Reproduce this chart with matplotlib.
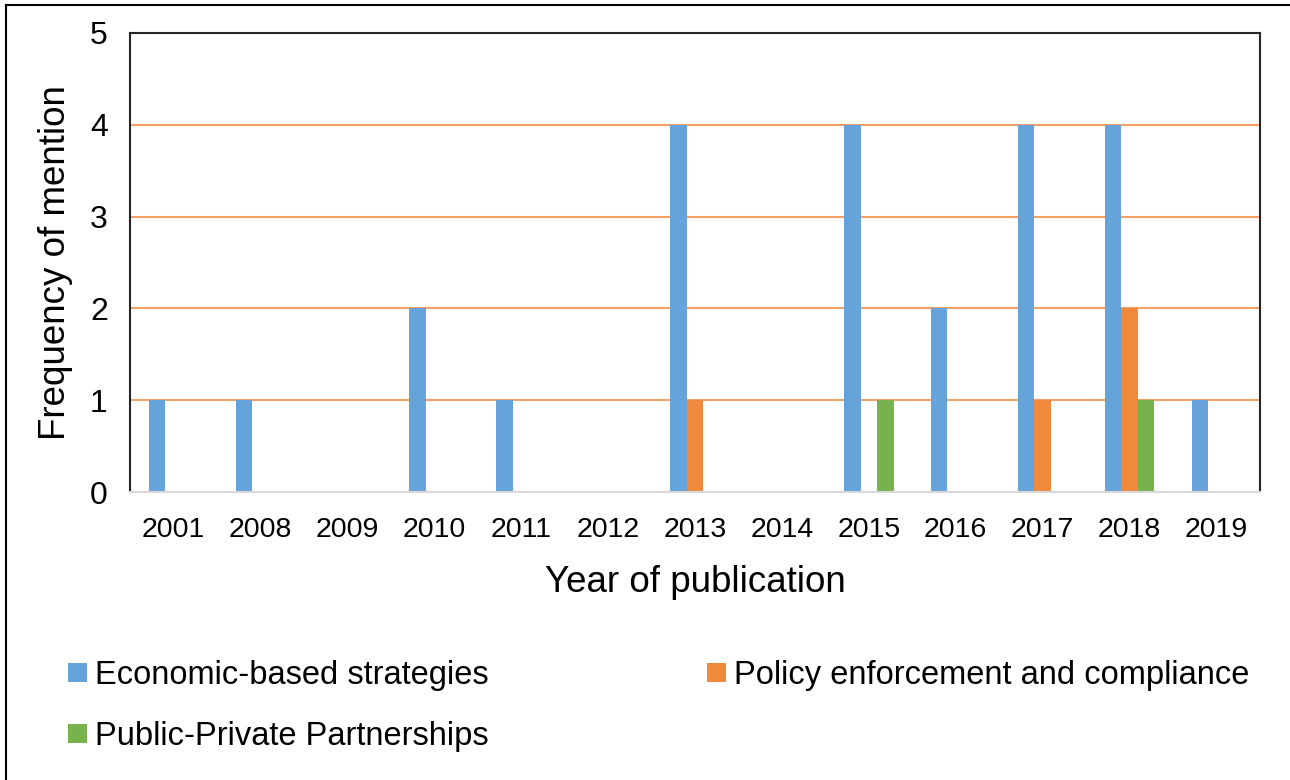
import numpy as np
import matplotlib
matplotlib.use("Agg")
import matplotlib.pyplot as plt
from matplotlib.lines import Line2D
from matplotlib.patches import Patch

plt.rcParams['font.family'] = ['Liberation Sans', 'DejaVu Sans']

# mentions per year of publication, one list per strategy
years = ['2001', '2008', '2009', '2010', '2011', '2012', '2013',
         '2014', '2015', '2016', '2017', '2018', '2019']
economic = [1, 1, 0, 2, 1, 0, 4, 0, 4, 2, 4, 4, 1]
policy = [0, 0, 0, 0, 0, 0, 1, 0, 0, 0, 1, 2, 0]
ppp = [0, 0, 0, 0, 0, 0, 0, 0, 1, 0, 0, 1, 0]
series_names = ['Economic-based strategies',
                'Policy enforcement and compliance',
                'Public-Private Partnerships']
colors = ['#66A3DA', '#EF8A3C', '#78B24D']

fig = plt.figure(figsize=(12.9, 7.8), dpi=100)
ax = fig.add_axes([0.1008, 0.3692, 0.8759, 0.5885])

x = np.arange(len(years))
w = 0.19
for k, vals in enumerate([economic, policy, ppp]):
    ax.bar(x + (k - 1) * w, vals, width=w, color=colors[k], zorder=3)

ax.set_xlim(-0.5, len(years) - 0.5)
ax.set_ylim(0, 5)
ax.set_yticks(range(6))
ax.set_xticks(x)
ax.set_xticklabels(years)
ax.tick_params(axis='y', length=0, labelsize=23, pad=16)
ax.tick_params(axis='x', length=0, labelsize=20.5, pad=18)
ax.yaxis.grid(True, color='#F4A066', linewidth=1.5, zorder=0)
ax.set_axisbelow(True)

for s in ['top', 'left', 'right']:
    ax.spines[s].set_color('#262626')
    ax.spines[s].set_linewidth(1.5)
ax.spines['bottom'].set_color('#D9D9D9')
ax.spines['bottom'].set_linewidth(1.5)
ax.spines['bottom'].set_zorder(4)

ax.set_xlabel('Year of publication', fontsize=26.5, labelpad=16)
ax.set_ylabel('Frequency of mention', fontsize=26.5, labelpad=12)

# legend filled row by row: first column gets items 0 and 2
order = [0, 2, 1]
handles = [Patch(facecolor=colors[i]) for i in order]
labels = [series_names[i] for i in order]
fig.legend(handles, labels, ncol=2, loc='upper left',
           bbox_to_anchor=(0.0527, 0.1538), frameon=False, fontsize=23.5,
           handlelength=0.58, handleheight=0.55, handletextpad=0.25,
           columnspacing=6.69, labelspacing=0.92, borderpad=0,
           borderaxespad=0)

# outer border on the top and left edges
fig.add_artist(Line2D([6 / 1290, 1.0], [1 - 5 / 780, 1 - 5 / 780],
                      transform=fig.transFigure, color='black', linewidth=1.5))
fig.add_artist(Line2D([6 / 1290, 6 / 1290], [0.0, 1 - 5 / 780],
                      transform=fig.transFigure, color='black', linewidth=1.5))

fig.savefig('out.png', dpi=100)
